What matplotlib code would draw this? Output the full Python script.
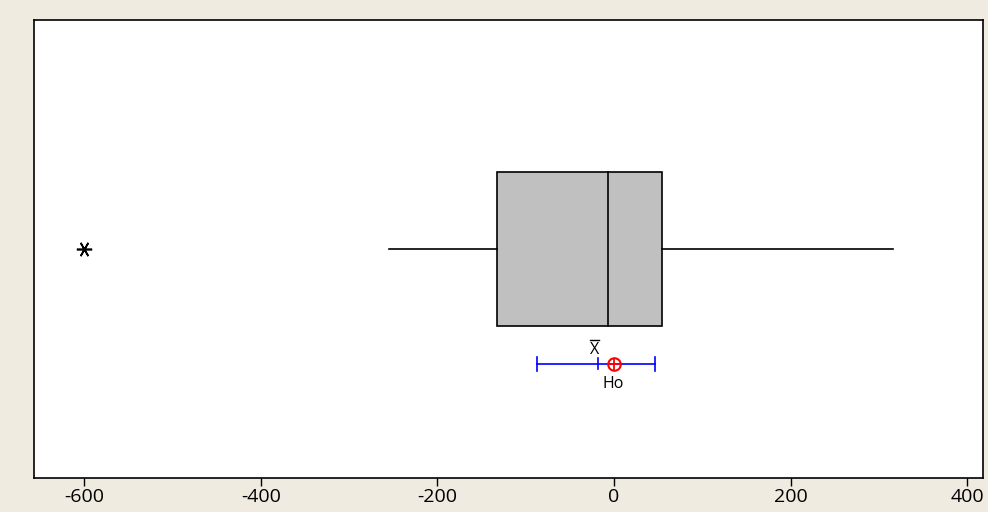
import matplotlib
matplotlib.use("Agg")
import matplotlib.pyplot as plt

plt.rcParams['font.family'] = ['Open Sans', 'DejaVu Sans']

# Data
q1, median, q3 = -132.6, -6.8, 54.4
whisker_low, whisker_high = -255, 316
outliers = [-600]
mean_value = -18
ci_low, ci_high = -87, 46.5
h0 = 0
xticks = [-600, -400, -200, 0, 200, 400]

bg = "#EFEBE0"
fig = plt.figure(figsize=(9.88, 5.12), dpi=100, facecolor=bg)
ax = fig.add_axes([34/988, 1-478/512, (983-34)/988, (478-20)/512])
ax.set_facecolor("white")
ax.set_xlim(-657, 418)
ax.set_ylim(0, 1)

yc = 0.5
half = 0.168
# box
ax.add_patch(plt.Rectangle((q1, yc-half), q3-q1, 2*half, facecolor="#C0C0C0",
                           edgecolor="black", linewidth=1.2, zorder=2))
ax.plot([median, median], [yc-half, yc+half], color="black", lw=1.2, zorder=3)
ax.plot([whisker_low, q1], [yc, yc], color="black", lw=1.2)
ax.plot([q3, whisker_high], [yc, yc], color="black", lw=1.2)
ax.plot(outliers, [yc]*len(outliers), marker=(6, 2, 90), color="black",
        markersize=11, mew=1.2, linestyle="none")

# CI for mean
ycl = 0.249
ax.plot([ci_low, ci_high], [ycl, ycl], color="blue", lw=1.2)
for xv in (ci_low, ci_high):
    ax.plot([xv, xv], [ycl-0.016, ycl+0.016], color="blue", lw=1.2)
ax.plot([mean_value, mean_value], [ycl-0.012, ycl+0.012], color="blue", lw=1.2)
ax.plot([h0], [ycl], marker="o", markersize=9, markerfacecolor="none",
        markeredgecolor="red", mew=1.5)
ax.plot([h0], [ycl], marker="+", markersize=8, color="red", mew=1.3)
ax.text(mean_value - 4, 0.280, "X", ha="center", va="center", fontsize=11.5)
ax.plot([mean_value - 9, mean_value + 1], [0.302, 0.302], color="black", lw=1)
ax.text(h0 - 1, 0.205, "Ho", ha="center", va="center", fontsize=11.5)

ax.set_yticks([])
ax.set_xticks(xticks)
ax.set_xticklabels([str(t) for t in xticks], fontsize=14)
ax.tick_params(axis="x", length=6, width=1, direction="out", pad=1)
for s in ax.spines.values():
    s.set_linewidth(1.2)

fig.savefig("out.png", dpi=100, facecolor=bg)
